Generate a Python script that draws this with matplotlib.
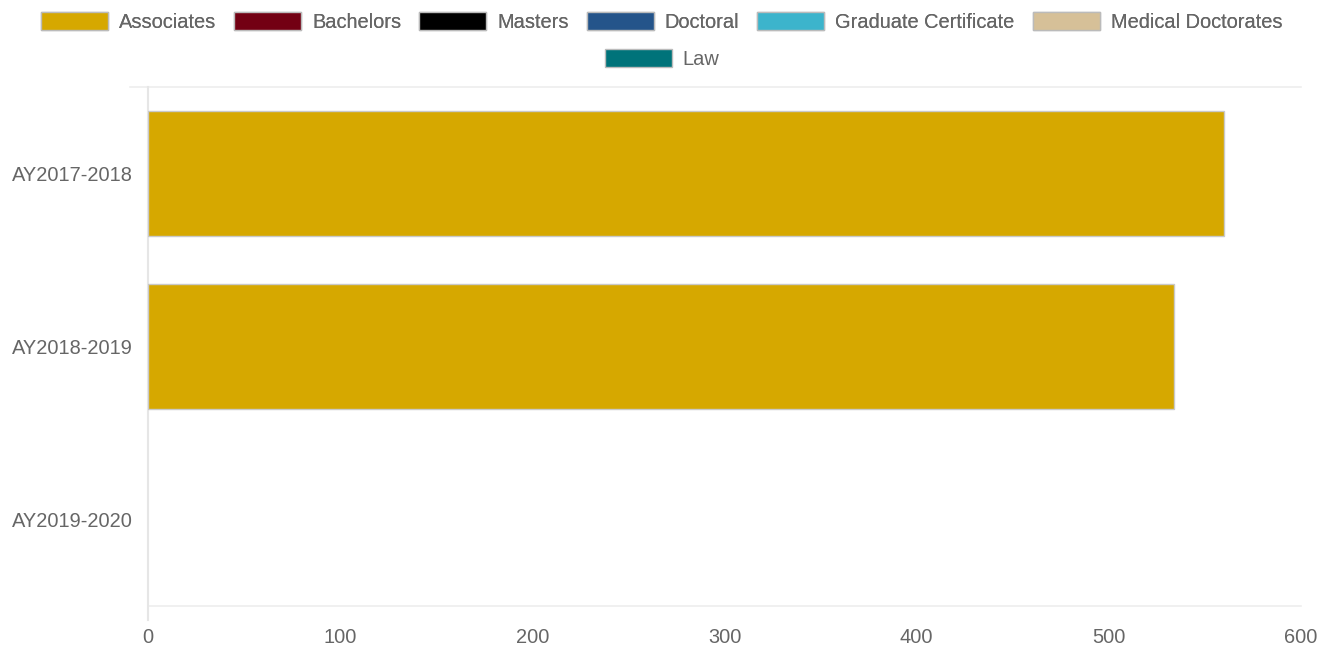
import matplotlib
matplotlib.use("Agg")
import matplotlib.pyplot as plt
from matplotlib.patches import Patch
import numpy as np

plt.rcParams['font.family'] = ['Liberation Sans', 'DejaVu Sans']

categories = ["AY2017-2018", "AY2018-2019", "AY2019-2020"]
series_names = ["Associates", "Bachelors", "Masters", "Doctoral",
                "Graduate Certificate", "Medical Doctorates", "Law"]
associates = [560, 534, 0]
bachelors = [0, 0, 0]
masters = [0, 0, 0]
doctoral = [0, 0, 0]
grad_cert = [0, 0, 0]
medical = [0, 0, 0]
law = [0, 0, 0]
series_values = [associates, bachelors, masters, doctoral, grad_cert, medical, law]
colors = ["#D6A800", "#730013", "#000000", "#24548A", "#3CB4CC", "#D6C098", "#00737A"]
x_ticks = [0, 100, 200, 300, 400, 500, 600]

W, H = 1331, 646
fig = plt.figure(figsize=(W / 100, H / 100), dpi=100)
ax = fig.add_axes([148 / W, 1 - 606 / H, (1301 - 148) / W, (606 - 87) / H])

y = np.arange(len(categories))
left = np.zeros(len(categories))
for name, vals, c in zip(series_names, series_values, colors):
    vals = np.array(vals, dtype=float)
    lws = [1.0 if v > 0 else 0.0 for v in vals]
    ecs = ["#c9c9c9" if v > 0 else "none" for v in vals]
    ax.barh(y, vals, left=left, height=0.72, color=c,
            edgecolor=ecs, linewidth=lws, zorder=2)
    left = left + vals

ax.set_xlim(0, 600)
ax.set_ylim(2.5, -0.5)
ax.set_yticks(y)
ax.set_yticklabels(categories)
ax.set_xticks(x_ticks)
ax.set_xticklabels([str(v) for v in x_ticks])
ax.tick_params(axis='both', colors="#666666", labelsize=14.4, length=0)
ax.tick_params(axis='y', pad=11)
ax.tick_params(axis='x', pad=16)
for lab in ax.get_xticklabels() + ax.get_yticklabels():
    lab.set_color("#666666")

for s in ax.spines.values():
    s.set_visible(False)
# faint frame lines
ax.plot([-18 / 1.9217, 600], [-0.5, -0.5], color="#eeeeee", lw=1.2, clip_on=False, zorder=1)
ax.plot([0, 600], [2.5, 2.5], color="#eeeeee", lw=1.2, clip_on=False, zorder=1)
ax.plot([0, 0], [-0.5, 2.5 + 14 / 173], color="#e6e6e6", lw=1.5, clip_on=False, zorder=1)

handles = [Patch(facecolor=c, edgecolor="#bbbbbb", linewidth=1.0) for c in colors]
leg_kw = dict(frameon=False, fontsize=14.4, handlelength=3.35, handleheight=1.0,
              handletextpad=0.55, columnspacing=0.9, borderpad=0, borderaxespad=0,
              labelcolor="#666666")
leg1 = fig.legend(handles[:6], series_names[:6], loc="center", ncol=6,
                  bbox_to_anchor=(0.5 * (43 + 1280) / W, 1 - 22 / H), **leg_kw)
fig.add_artist(leg1)
leg2 = fig.legend(handles[6:], series_names[6:], loc="center", ncol=1,
                  bbox_to_anchor=((604 + 720) / 2 / W, 1 - 59 / H), **leg_kw)

fig.savefig("out.png", dpi=100)
